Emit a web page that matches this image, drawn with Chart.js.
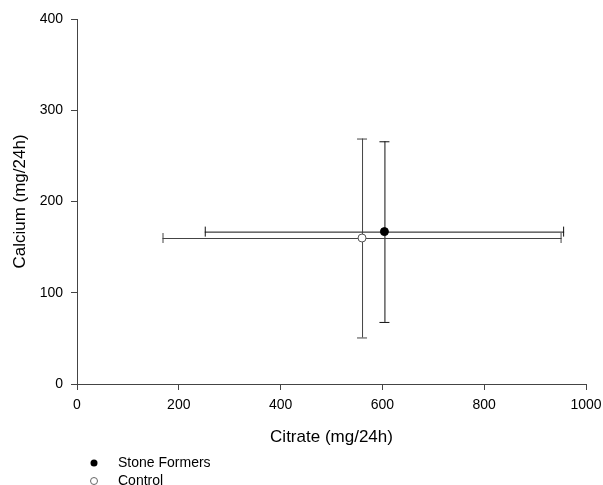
<!DOCTYPE html>
<html>
<head>
<meta charset="utf-8">
<script src="https://cdn.jsdelivr.net/npm/chart.js@4"></script>
<style>
  html, body { margin: 0; padding: 0; background: #fff; }
  #wrap { width: 603px; height: 485px; }
</style>
</head>
<body>
<div id="wrap"><canvas id="myChart" width="603" height="485"></canvas></div>
<script>
// data
var groups = ['Stone Formers', 'Control'];
var citrateMean = [604, 560];
var citrateSD = [353, 392];
var calciumMean = [167, 160];
var calciumSD = [99, 109];

var xTicks = [0, 200, 400, 600, 800, 1000];
var yTicks = [0, 100, 200, 300, 400];

var FONT = '"Liberation Sans", Arial, sans-serif';
var lineColors = ['#111', '#444'];

// error bars in both directions, drawn through the scales
var errorBars = {
    id: 'errorBars',
    beforeDatasetsDraw: function(chart) {
        var ctx = chart.ctx;
        var xs = chart.scales.x, ys = chart.scales.y;
        var cap = 5;
        ctx.save();
        ctx.lineWidth = 1;
        for (var i = 0; i < groups.length; i++) {
            ctx.strokeStyle = lineColors[i];
            var cx = xs.getPixelForValue(citrateMean[i]);
            var cy = ys.getPixelForValue(calciumMean[i]);
            var x0 = xs.getPixelForValue(citrateMean[i] - citrateSD[i]);
            var x1 = xs.getPixelForValue(citrateMean[i] + citrateSD[i]);
            var y0 = ys.getPixelForValue(calciumMean[i] - calciumSD[i]);
            var y1 = ys.getPixelForValue(calciumMean[i] + calciumSD[i]);
            ctx.beginPath();
            ctx.moveTo(x0, cy + 0.5); ctx.lineTo(x1, cy + 0.5);
            ctx.moveTo(x0 + 0.5, cy - cap); ctx.lineTo(x0 + 0.5, cy + cap);
            ctx.moveTo(x1 - 0.5, cy - cap); ctx.lineTo(x1 - 0.5, cy + cap);
            ctx.moveTo(cx + 0.5, y0); ctx.lineTo(cx + 0.5, y1);
            ctx.moveTo(cx - cap, y0 + 0.5); ctx.lineTo(cx + cap, y0 + 0.5);
            ctx.moveTo(cx - cap, y1 + 0.5); ctx.lineTo(cx + cap, y1 + 0.5);
            ctx.stroke();
        }
        ctx.restore();
    }
};

// legend stacked under the plot, left side
var stackedLegend = {
    id: 'stackedLegend',
    afterDraw: function(chart) {
        var ctx = chart.ctx;
        ctx.save();
        ctx.font = '14px ' + FONT;
        ctx.textBaseline = 'middle';
        ctx.fillStyle = '#000';
        var rows = [463, 481];
        for (var i = 0; i < groups.length; i++) {
            ctx.beginPath();
            ctx.arc(94, rows[i], 3.5, 0, Math.PI * 2);
            if (i === 0) {
                ctx.fillStyle = '#000';
                ctx.fill();
            } else {
                ctx.fillStyle = '#fff';
                ctx.fill();
                ctx.strokeStyle = '#666';
                ctx.lineWidth = 1;
                ctx.stroke();
            }
            ctx.fillStyle = '#000';
            ctx.fillText(groups[i], 118, rows[i]);
        }
        ctx.restore();
    }
};

var ctx = document.getElementById('myChart').getContext('2d');
var myChart = new Chart(ctx, {
    type: 'scatter',
    data: {
        datasets: [{
            label: groups[0],
            data: [{ x: citrateMean[0], y: calciumMean[0] }],
            pointRadius: 4,
            pointBackgroundColor: '#000',
            pointBorderColor: '#000',
            pointBorderWidth: 1
        }, {
            label: groups[1],
            data: [{ x: citrateMean[1], y: calciumMean[1] }],
            pointRadius: 4,
            pointBackgroundColor: '#fff',
            pointBorderColor: '#555',
            pointBorderWidth: 1
        }]
    },
    options: {
        responsive: false,
        animation: false,
        layout: { padding: { left: 2, top: 19, right: 17, bottom: 37 } },
        plugins: {
            legend: { display: false },
            tooltip: { enabled: false }
        },
        scales: {
            x: {
                type: 'linear',
                min: 0,
                max: 1000,
                afterBuildTicks: function(axis) { axis.ticks = xTicks.map(function(v) { return { value: v }; }); },
                afterFit: function(axis) { axis.height = 64; axis.paddingRight = 0; axis.paddingLeft = 0; },
                ticks: { color: '#000', padding: 7, maxRotation: 0, font: { family: FONT, size: 14 },
                         callback: function(v) { return String(v); } },
                grid: { drawOnChartArea: false, drawTicks: true, tickLength: 6, tickColor: '#444' },
                border: { color: '#444', width: 1 },
                title: { display: true, text: 'Citrate (mg/24h)', color: '#000', padding: 0, font: { family: FONT, size: 17 } }
            },
            y: {
                type: 'linear',
                min: 0,
                max: 400,
                afterBuildTicks: function(axis) { axis.ticks = yTicks.map(function(v) { return { value: v }; }); },
                afterFit: function(axis) { axis.width = 75; axis.paddingTop = 0; axis.paddingBottom = 0; },
                ticks: { color: '#000', padding: 8, font: { family: FONT, size: 14 },
                         callback: function(v) { return String(v); } },
                grid: { drawOnChartArea: false, drawTicks: true, tickLength: 6, tickColor: '#444' },
                border: { color: '#444', width: 1 },
                title: { display: true, text: 'Calcium (mg/24h)', color: '#000', padding: { top: 8, bottom: 0 }, font: { family: FONT, size: 17 } }
            }
        }
    },
    plugins: [errorBars, stackedLegend]
});
</script>
</body>
</html>
